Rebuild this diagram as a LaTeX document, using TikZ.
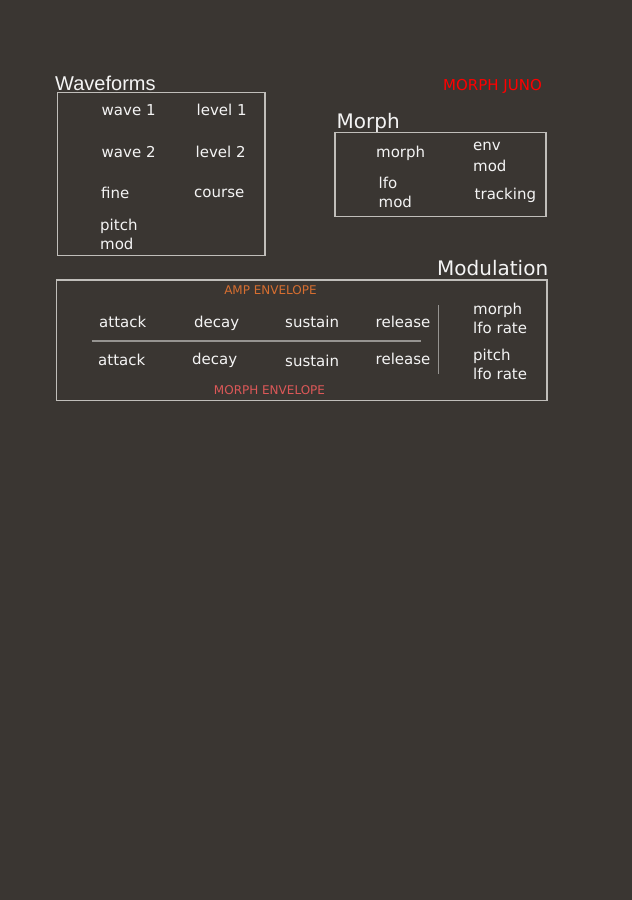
\documentclass[tikz,border=0pt]{standalone}
\usepackage{fontspec}
\setmainfont{DejaVu Sans}
\newfontfamily\titlefont{Liberation Sans}
\definecolor{bgc}{RGB}{58,54,50}
\definecolor{txt}{RGB}{244,244,244}
\definecolor{boxc}{RGB}{192,190,186}
\definecolor{sepc}{RGB}{150,148,145}
\definecolor{ampc}{RGB}{214,110,48}
\definecolor{menvc}{RGB}{220,88,88}
\tikzset{
  lbl/.style={anchor=base west, inner sep=0pt, text=txt, font=\fontsize{15}{18}\selectfont},
  ttl/.style={anchor=base west, inner sep=0pt, text=txt, font=\fontsize{20}{24}\selectfont},
  panel/.style={draw=boxc, line width=1.4pt},
  envlbl/.style={anchor=base, inner sep=0pt, font=\fontsize{12}{14}\selectfont},
}
\begin{document}
\begin{tikzpicture}[x=1pt,y=-1pt]
\fill[bgc] (0,0) rectangle (632,900);
\useasboundingbox (0,0) rectangle (632,900);

% Waveforms
\node[ttl, font=\titlefont\fontsize{20}{24}\selectfont] (wft) at (55,90) {Waveforms};
\draw[panel] (57.3,92.7) rectangle (265,255.5);
\node[lbl] (w1) at (101.5,115) {wave 1};
\node[lbl] (l1) at (196.5,115.5) {level 1};
\node[lbl] (w2) at (101.5,157) {wave 2};
\node[lbl] (l2) at (195.5,157) {level 2};
\node[lbl] (fi) at (101,198) {fine};
\node[lbl] (co) at (194,197) {course};
\node[lbl] (pm1) at (100,230) {pitch};
\node[lbl] (pm2) at (100,249) {mod};

% Title
\node[anchor=base west, inner sep=0pt, text=red, font=\fontsize{15}{18}\selectfont] (juno) at (443,90) {MORPH JUNO};

% Morph
\node[ttl] (mt) at (336.5,128) {Morph};
\draw[panel] (335,132.7) rectangle (546,216.5);
\node[lbl] (mo) at (376,157) {morph};
\node[lbl] (em1) at (473,150) {env};
\node[lbl] (em2) at (473,171) {mod};
\node[lbl] (lm1) at (378.5,188) {lfo};
\node[lbl] (lm2) at (378.5,207) {mod};
\node[lbl] (tr) at (474.5,199) {tracking};

% Modulation
\node[ttl] (modt) at (437,275) {Modulation};
\draw[panel] (56.7,280) rectangle (547,400.5);
\node[envlbl, text=ampc] (amp) at (270.5,294) {AMP ENVELOPE};
\node[lbl] (a1) at (99,327) {attack};
\node[lbl] (d1) at (194,327) {decay};
\node[lbl] (s1) at (285,327.5) {sustain};
\node[lbl] (r1) at (375.5,327.5) {release};
\coordinate (hl) at (91.7,340.5);
\coordinate (hr) at (421,340.5);
\draw[sepc, line width=2pt] (hl) -- (hr);
\node[lbl] (a2) at (98,365.5) {attack};
\node[lbl] (d2) at (192,364.5) {decay};
\node[lbl] (s2) at (285,366) {sustain};
\node[lbl] (r2) at (375.5,364.5) {release};
\node[envlbl, text=menvc] (menv) at (269.5,394.5) {MORPH ENVELOPE};
\coordinate (vt) at (438.3,305);
\coordinate (vb) at (438.3,374);
\draw[sepc, line width=0.8pt] (vt) -- (vb);
\node[lbl] (ml1) at (473,314) {morph};
\node[lbl] (ml2) at (473,333) {lfo rate};
\node[lbl] (pl1) at (473,360) {pitch};
\node[lbl] (pl2) at (473,379) {lfo rate};
\end{tikzpicture}
\end{document}
